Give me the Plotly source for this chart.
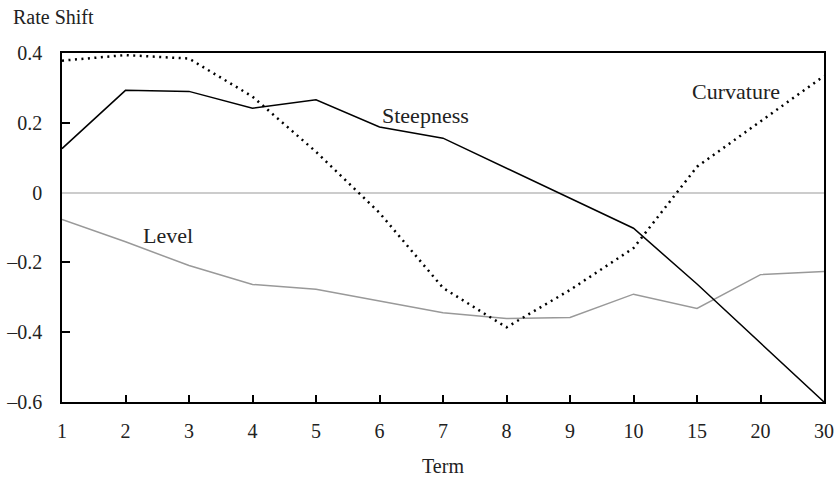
import plotly.graph_objects as go

# term buckets (years) and the three factor loadings
terms = ["1", "2", "3", "4", "5", "6", "7", "8", "9", "10", "15", "20", "30"]
level = [-0.077, -0.141, -0.209, -0.263, -0.277, -0.31, -0.344, -0.361, -0.358, -0.291, -0.332, -0.235, -0.226]
steepness = [0.126, 0.293, 0.29, 0.242, 0.266, 0.188, 0.156, 0.07, -0.016, -0.102, -0.262, -0.431, -0.6]
curvature = [0.378, 0.394, 0.384, 0.275, 0.117, -0.058, -0.273, -0.386, -0.279, -0.159, 0.074, 0.203, 0.334]
ytick_vals = [0.4, 0.2, 0, -0.2, -0.4, -0.6]
ytick_text = ["0.4", "0.2", "0", "\u20130.2", "\u20130.4", "\u20130.6"]

FONT = "Liberation Serif, Times New Roman, serif"

fig = go.Figure()
fig.add_trace(go.Scatter(x=terms, y=level, mode="lines", name="Level",
                         line=dict(color="#999999", width=1.5)))
fig.add_trace(go.Scatter(x=terms, y=steepness, mode="lines", name="Steepness",
                         line=dict(color="#000000", width=1.5)))
fig.add_trace(go.Scatter(x=terms, y=curvature, mode="lines", name="Curvature",
                         line=dict(color="#000000", width=2.5, dash="2px,4.5px")))

labels = [("Level", 1.67, -0.124), ("Steepness", 5.72, 0.22), ("Curvature", 10.61, 0.291)]
for txt, xi, yi in labels:
    fig.add_annotation(x=xi, y=yi, text=txt, showarrow=False,
                       font=dict(family=FONT, size=22, color="#222"))

fig.add_annotation(x=0, y=1, xref="paper", yref="paper", xshift=-51, yshift=36,
                   xanchor="left", yanchor="middle", showarrow=False, text="Rate Shift",
                   font=dict(family=FONT, size=20, color="#222"))

fig.update_xaxes(
    type="category", range=[0, 12], showgrid=False, zeroline=False,
    showline=True, linecolor="black", linewidth=1.5, mirror=True,
    ticks="inside", ticklen=7, tickwidth=2, tickcolor="black",
    ticklabelstandoff=10, automargin=False,
    tickfont=dict(family=FONT, size=20, color="#222"),
    title=dict(text="Term", font=dict(family=FONT, size=20, color="#222"), standoff=18),
)
fig.update_yaxes(
    range=[-0.6, 0.4], showgrid=False,
    zeroline=True, zerolinecolor="#cccccc", zerolinewidth=1.5,
    showline=True, linecolor="black", linewidth=1.5, mirror=True,
    tickvals=ytick_vals, ticktext=ytick_text, ticks="",
    minor=dict(tickmode="array", tickvals=[0.2, -0.2, -0.4], ticks="inside",
               ticklen=8, tickwidth=2, tickcolor="black", showgrid=False),
    ticklabelstandoff=14, automargin=False,
    tickfont=dict(family=FONT, size=20, color="#222"),
)
fig.update_layout(
    width=835, height=479,
    margin=dict(l=62, r=11, t=53, b=77),
    paper_bgcolor="white", plot_bgcolor="white",
    showlegend=False,
)

# drop the default 8px page margin so the figure fills the window exactly
fig.write_html(
    "out.html",
    config={"displayModeBar": False},
    post_script="document.body.style.margin='0';document.body.style.overflow='hidden';",
)
